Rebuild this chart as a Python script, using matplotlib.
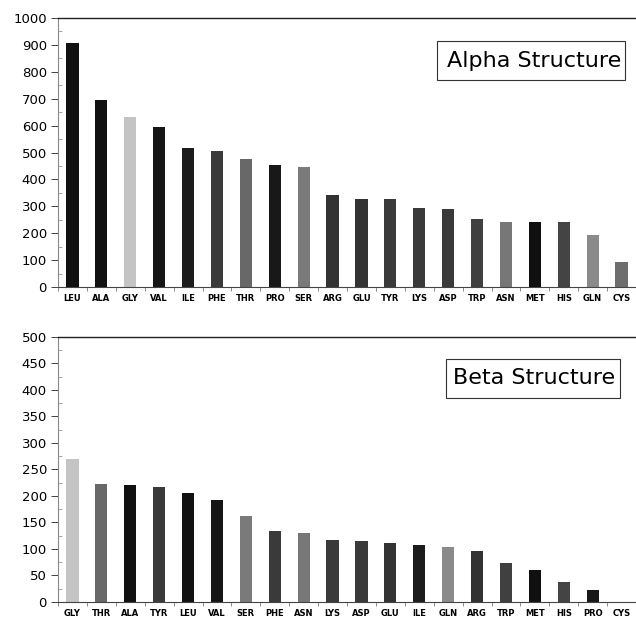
import matplotlib
matplotlib.use("Agg")
import matplotlib.pyplot as plt
from matplotlib.patches import Rectangle
from matplotlib.ticker import MultipleLocator, FixedLocator, NullFormatter

# Residue counts in alpha-helical structure (sorted, descending)
alpha_residues = ["LEU", "ALA", "GLY", "VAL", "ILE", "PHE", "THR", "PRO", "SER", "ARG",
                  "GLU", "TYR", "LYS", "ASP", "TRP", "ASN", "MET", "HIS", "GLN", "CYS"]
alpha_counts = [908, 695, 633, 595, 517, 504, 477, 455, 446, 341,
                328, 327, 294, 290, 254, 243, 243, 240, 193, 94]

# Residue counts in beta structure (sorted, descending)
beta_residues = ["GLY", "THR", "ALA", "TYR", "LEU", "VAL", "SER", "PHE", "ASN", "LYS",
                 "ASP", "GLU", "ILE", "GLN", "ARG", "TRP", "MET", "HIS", "PRO", "CYS"]
beta_counts = [269, 222, 220, 217, 206, 192, 163, 133, 131, 116,
               115, 112, 107, 104, 97, 73, 60, 38, 22, 0]

# Grey shade used for each residue
shade = {
    "LEU": "#111111", "ALA": "#111111", "GLY": "#c4c4c4", "VAL": "#151515",
    "ILE": "#1c1c1c", "PHE": "#3a3a3a", "THR": "#686868", "PRO": "#181818",
    "SER": "#7a7a7a", "ARG": "#333333", "GLU": "#333333", "TYR": "#3a3a3a",
    "LYS": "#3a3a3a", "ASP": "#3a3a3a", "TRP": "#404040", "ASN": "#777777",
    "MET": "#101010", "HIS": "#444444", "GLN": "#8a8a8a", "CYS": "#6e6e6e",
}

fig = plt.figure(figsize=(6.36, 6.19), dpi=100)
ax_a = fig.add_axes([0.0912, 0.5363, 0.9088, 0.4346])
ax_b = fig.add_axes([0.0912, 0.0275, 0.9088, 0.4281])


def draw(ax, residues, counts, ymax, major, minor, title, box, text_x):
    x = list(range(len(residues)))
    ax.bar(x, counts, width=0.42, color=[shade[r] for r in residues],
           edgecolor="none", zorder=2)
    ax.set_xlim(-0.5, len(residues) - 0.5)
    ax.set_ylim(0, ymax)
    ax.set_xticks(x)
    ax.set_xticklabels(residues, fontsize=6, fontweight="bold")
    ax.tick_params(axis="x", which="major", length=0, pad=5)
    ax.xaxis.set_minor_locator(FixedLocator([i - 0.5 for i in range(len(residues) + 1)]))
    ax.tick_params(axis="x", which="minor", length=3, direction="out",
                   color="#777777", width=0.6)
    ax.yaxis.set_major_locator(MultipleLocator(major))
    ax.yaxis.set_minor_locator(MultipleLocator(minor))
    ax.yaxis.set_minor_formatter(NullFormatter())
    ax.tick_params(axis="y", which="major", labelsize=9.5, length=5,
                   direction="out", color="#444444", width=0.7, pad=3)
    ax.tick_params(axis="y", which="minor", length=3, direction="in",
                   color="#999999", width=0.6)
    ax.spines["right"].set_visible(False)
    ax.spines["top"].set_color("#222222")
    ax.spines["top"].set_linewidth(1.0)
    ax.spines["left"].set_color("#888888")
    ax.spines["left"].set_linewidth(0.8)
    ax.spines["bottom"].set_color("#444444")
    ax.spines["bottom"].set_linewidth(0.8)
    x0, y0, x1, y1 = box
    ax.add_patch(Rectangle((x0, y0), x1 - x0, y1 - y0, transform=ax.transAxes,
                           facecolor="white", edgecolor="#333333",
                           linewidth=0.8, zorder=3))
    ax.text(text_x, (y0 + y1) / 2, title, transform=ax.transAxes, ha="right",
            va="center", fontsize=16, zorder=4)


draw(ax_a, alpha_residues, alpha_counts, 1000, 100, 50, "Alpha Structure",
     (0.656, 0.770, 0.981, 0.914), 0.974)
draw(ax_b, beta_residues, beta_counts, 500, 50, 25, "Beta Structure",
     (0.671, 0.770, 0.972, 0.917), 0.964)

fig.savefig("out.png", dpi=100)
